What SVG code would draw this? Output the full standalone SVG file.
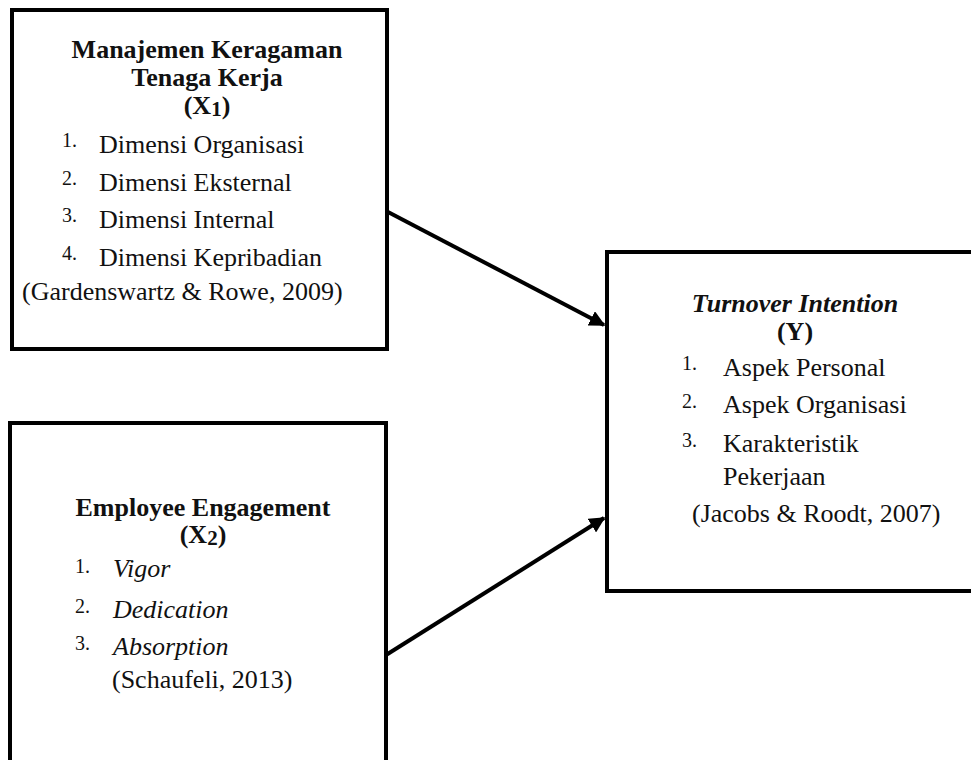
<svg xmlns="http://www.w3.org/2000/svg" width="971" height="760" viewBox="0 0 971 760">
<defs>
<style>
.box{fill:#fff;stroke:#000;stroke-width:4}
.t{font-family:"Liberation Serif","Times New Roman",serif;font-size:26px;fill:#111}
.b{font-weight:bold}
.i{font-style:italic}
.n{font-family:"Liberation Serif","Times New Roman",serif;font-size:20px;fill:#111}
.c{text-anchor:middle}
.edge{stroke:#000;stroke-width:4;fill:none}
</style>
<marker id="ah" viewBox="0 0 10 10" refX="9" refY="5" markerWidth="4" markerHeight="4" orient="auto" markerUnits="strokeWidth">
<path d="M0,0 L10,5 L0,10 z" fill="#000"/>
</marker>
</defs>
<rect width="971" height="760" fill="#fff"/>
<g id="x1">
<rect class="box" x="12" y="10" width="375" height="339"/>
<text class="t b c" x="207" y="58">Manajemen Keragaman</text>
<text class="t b c" x="207" y="86">Tenaga Kerja</text>
<text class="t b c" x="207" y="114">(X<tspan font-size="21" dy="2">1</tspan><tspan dy="-2">)</tspan></text>
<text class="n" x="62" y="147">1.</text><text class="t" x="99" y="153">Dimensi Organisasi</text>
<text class="n" x="62" y="185">2.</text><text class="t" x="99" y="191">Dimensi Eksternal</text>
<text class="n" x="62" y="222">3.</text><text class="t" x="99" y="228">Dimensi Internal</text>
<text class="n" x="62" y="260">4.</text><text class="t" x="99" y="266">Dimensi Kepribadian</text>
<text class="t" x="22" y="300">(Gardenswartz &amp; Rowe, 2009)</text>
</g>
<g id="x2">
<rect class="box" x="10" y="423" width="376" height="345"/>
<text class="t b c" x="203" y="516">Employee Engagement</text>
<text class="t b c" x="203" y="543">(X<tspan font-size="21" dy="2">2</tspan><tspan dy="-2">)</tspan></text>
<text class="n" x="75" y="573">1.</text><text class="t i" x="113" y="577">Vigor</text>
<text class="n" x="75" y="613">2.</text><text class="t i" x="113" y="618">Dedication</text>
<text class="n" x="75" y="650">3.</text><text class="t i" x="113" y="655">Absorption</text>
<text class="t" x="112" y="688">(Schaufeli, 2013)</text>
</g>
<g id="y">
<rect class="box" x="607" y="252" width="380" height="339"/>
<text class="t b i c" x="795" y="312">Turnover Intention</text>
<text class="t b c" x="795" y="340">(Y)</text>
<text class="n" x="682" y="370">1.</text><text class="t" x="723" y="376">Aspek Personal</text>
<text class="n" x="682" y="408">2.</text><text class="t" x="723" y="413">Aspek Organisasi</text>
<text class="n" x="682" y="447">3.</text><text class="t" x="723" y="452">Karakteristik</text>
<text class="t" x="723" y="485">Pekerjaan</text>
<text class="t" x="692" y="522">(Jacobs &amp; Roodt, 2007)</text>
</g>
<g id="connectors">
<line class="edge" x1="388" y1="212" x2="604" y2="325" marker-end="url(#ah)"/>
<line class="edge" x1="386" y1="655" x2="604" y2="518" marker-end="url(#ah)"/>
</g>
</svg>
